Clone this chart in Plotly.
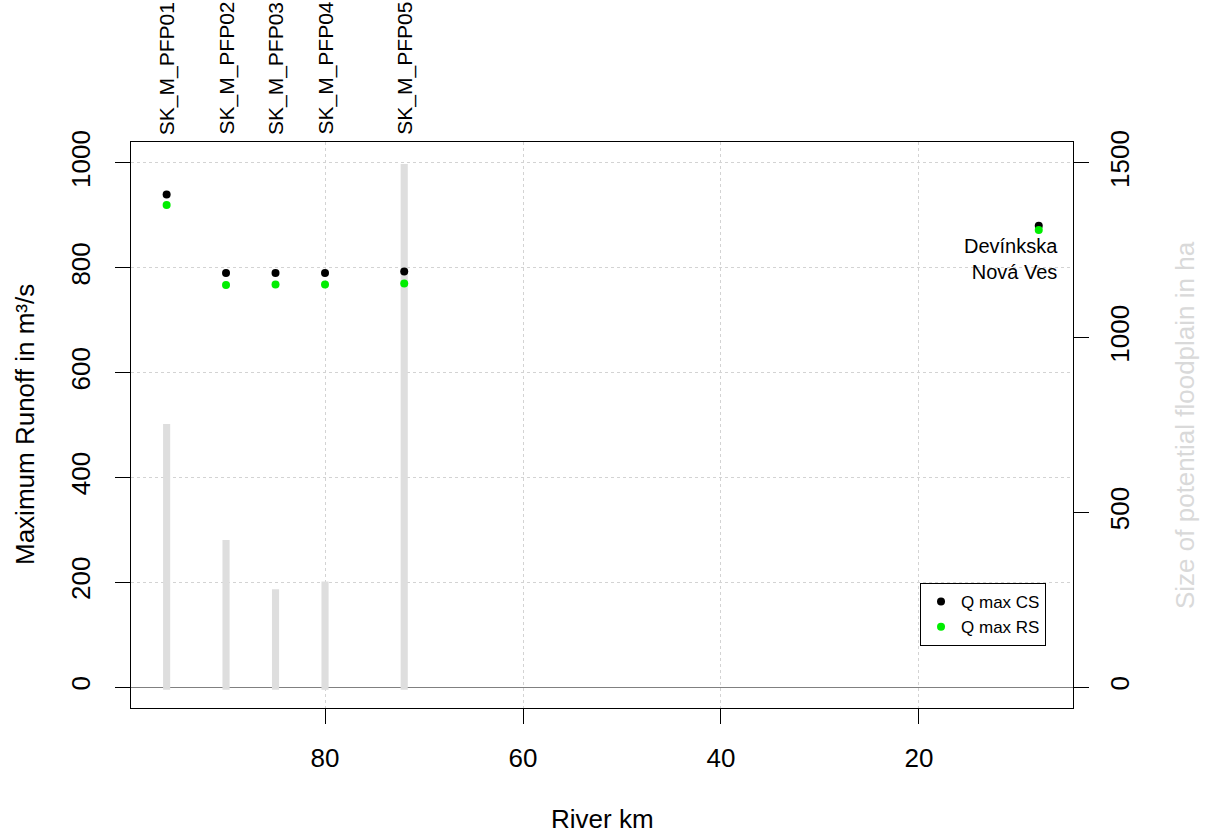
import plotly.graph_objects as go

# Data
site_names = ["SK_M_PFP01", "SK_M_PFP02", "SK_M_PFP03", "SK_M_PFP04", "SK_M_PFP05"]
site_km = [96.0, 90.0, 85.0, 80.0, 72.0]
q_cs = [940, 790, 790, 790, 793]
q_rs = [920, 767, 768, 768, 770]
floodplain_ha = [753, 421, 280, 302, 1497]

gauge_name = "Devínkska<br>Nová Ves"
gauge_km = [7.9]
gauge_cs = [880]
gauge_rs = [872]

x_ticks = [20, 40, 60, 80]
y_ticks = [0, 200, 400, 600, 800, 1000]
y2_ticks = [0, 500, 1000, 1500]

FONT = "Liberation Sans, Arial, sans-serif"
Y_RANGE = [-40, 1040]
Y2_RANGE = [-60, 1560]

fig = go.Figure()

# floodplain bars on secondary axis
fig.add_trace(go.Bar(
    x=site_km, y=[v + 8 for v in floodplain_ha], base=-8, width=0.72,
    marker=dict(color="#dedede", line=dict(width=0)),
    yaxis="y2", showlegend=False, hoverinfo="skip"))

fig.add_trace(go.Scatter(
    x=site_km + gauge_km, y=q_cs + gauge_cs, mode="markers", yaxis="y3",
    marker=dict(color="black", size=8), name="Q max CS"))
fig.add_trace(go.Scatter(
    x=site_km + gauge_km, y=q_rs + gauge_rs, mode="markers", yaxis="y3",
    marker=dict(color="#00ee00", size=8), name="Q max RS"))

annotations = []
for name, km in zip(site_names, site_km):
    annotations.append(dict(
        x=km, xref="x", y=1, yref="paper", text=name, showarrow=False,
        textangle=-90, xanchor="center", yanchor="bottom", yshift=5,
        font=dict(family=FONT, size=21, color="black")))
annotations.append(dict(
    x=gauge_km[0], xref="x", y=gauge_rs[0], yref="y", text=gauge_name,
    showarrow=False, xanchor="right", yanchor="top", align="right",
    xshift=21, yshift=-3,
    font=dict(family=FONT, size=20, color="black")))
# axis titles
annotations.append(dict(
    x=0.5, xref="paper", y=0, yref="paper", text="River km", showarrow=False,
    xanchor="center", yanchor="middle", yshift=-111,
    font=dict(family=FONT, size=26, color="black")))
annotations.append(dict(
    x=0, xref="paper", y=0.5, yref="paper", text="Maximum Runoff in m³/s",
    showarrow=False, textangle=-90, xanchor="center", yanchor="middle",
    xshift=-106, font=dict(family=FONT, size=26, color="black")))
annotations.append(dict(
    x=1, xref="paper", y=0.5, yref="paper",
    text="Size of potential floodplain in ha",
    showarrow=False, textangle=-90, xanchor="center", yanchor="middle",
    xshift=112, font=dict(family=FONT, size=26, color="#d9d9d9")))

fig.update_layout(
    width=1205, height=834,
    margin=dict(l=131, r=132, t=142, b=126, autoexpand=False),
    paper_bgcolor="white", plot_bgcolor="white",
    font=dict(family=FONT, size=26, color="black"),
    barmode="overlay",
    annotations=annotations,
    legend=dict(
        x=0.8376, y=0.2208, xanchor="left", yanchor="top",
        bordercolor="black", borderwidth=1, bgcolor="white",
        font=dict(family=FONT, size=17), itemwidth=30,
        tracegroupgap=0),
    xaxis=dict(
        range=[99.6, 4.44], tickvals=x_ticks, ticks="outside", ticklen=15,
        tickcolor="black", showline=True, linecolor="black", linewidth=1,
        mirror=True, showgrid=True, gridcolor="#d3d3d3", griddash="dot",
        gridwidth=1, zeroline=False, automargin=False,
        ticklabelstandoff=12, tickfont=dict(size=26)),
    yaxis=dict(
        range=Y_RANGE, tickvals=y_ticks, ticks="outside", ticklen=15,
        tickcolor="black", tickangle=-90, showline=True, linecolor="black",
        linewidth=1, mirror=True, showgrid=True, gridcolor="#d3d3d3",
        griddash="dot", zeroline=True, zerolinecolor="#808080",
        zerolinewidth=1, ticklabelstandoff=15, automargin=False,
        tickfont=dict(size=26)),
    yaxis2=dict(
        range=Y2_RANGE, tickvals=y2_ticks, overlaying="y", side="right",
        ticks="outside", ticklen=15, tickcolor="black", tickangle=-90,
        showgrid=False, zeroline=False, showline=False, ticklabelstandoff=9,
        automargin=False, tickfont=dict(size=26)),
    yaxis3=dict(
        range=Y_RANGE, overlaying="y", matches="y", visible=False,
        showgrid=False, zeroline=False, automargin=False),
)

fig.write_html(
    "out.html",
    config={"displayModeBar": False},
    post_script="document.body.style.margin='0';document.body.style.overflow='hidden';")
